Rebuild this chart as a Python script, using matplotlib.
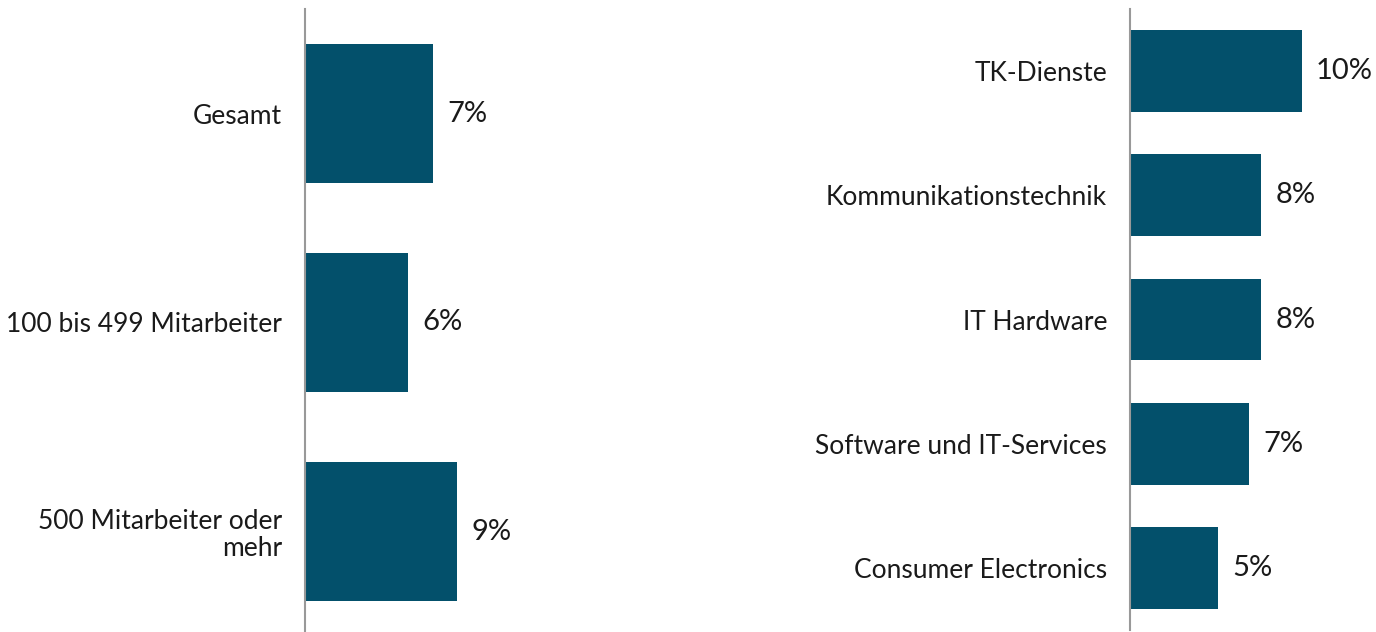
import matplotlib
matplotlib.use("Agg")
import matplotlib.pyplot as plt

# data (values in %)
size_labels = ["Gesamt", "100 bis 499 Mitarbeiter", "500 Mitarbeiter oder\nmehr"]
size_values = [7.3, 5.9, 8.7]
size_text = ["7%", "6%", "9%"]

sector_labels = ["TK-Dienste", "Kommunikationstechnik", "IT Hardware",
                 "Software und IT-Services", "Consumer Electronics"]
sector_values = [9.8, 7.5, 7.5, 6.8, 5.0]
sector_text = ["10%", "8%", "8%", "7%", "5%"]

BAR_COLOR = "#03506b"
AXIS_COLOR = "#999999"
PX_PER_PCT = 17.5

W, H = 1376, 632
plt.rcParams["font.family"] = ["Lato", "DejaVu Sans"]

fig = plt.figure(figsize=(W / 100, H / 100), dpi=100)


def panel(x0, width, top, height, labels, values, texts, bar_h):
    ax = fig.add_axes([x0 / W, 1 - (top + height) / H, width / W, height / H])
    n = len(labels)
    bars = ax.barh(range(n), values, height=bar_h, color=BAR_COLOR)
    ax.set_xlim(0, width / PX_PER_PCT)
    ax.set_ylim(n - 0.5, -0.5)
    ax.set_yticks(range(n))
    ax.set_yticklabels(labels, fontsize=19, color="#1a1a1a", linespacing=1.1)
    ax.tick_params(axis="y", length=0, pad=16.5)
    ax.set_xticks([])
    for s in ["top", "right", "bottom"]:
        ax.spines[s].set_visible(False)
    ax.spines["left"].set_color(AXIS_COLOR)
    ax.spines["left"].set_linewidth(1.5)
    ax.bar_label(bars, labels=texts, padding=10.5, fontsize=21, color="#1a1a1a")
    return ax


panel(305, 300, 9, 627, size_labels, size_values, size_text, 0.665)
panel(1130, 246, 9, 621, sector_labels, sector_values, sector_text, 0.66)

fig.savefig("out.png", dpi=100)
